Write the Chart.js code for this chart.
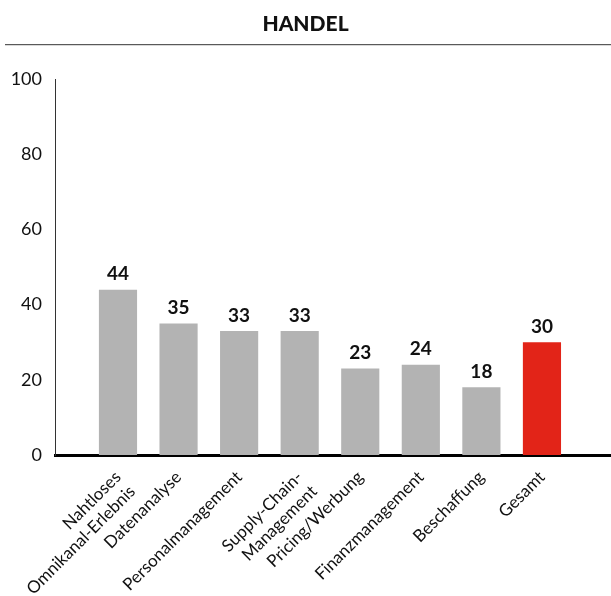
<!DOCTYPE html>
<html>
<head>
<meta charset="utf-8">
<script src="https://cdn.jsdelivr.net/npm/chart.js@4"></script>
<style>
  html, body { margin: 0; padding: 0; background: #fff; }
  #wrap { width: 611px; height: 596px; }
</style>
</head>
<body>
<div id="wrap"><canvas id="handelChart" width="611" height="596"></canvas></div>
<script>
'use strict';

const categories = [
  ['Nahtloses', 'Omnikanal-Erlebnis'],
  'Datenanalyse',
  'Personalmanagement',
  ['Supply-Chain-', 'Management'],
  'Pricing/Werbung',
  'Finanzmanagement',
  'Beschaffung',
  'Gesamt'
];
const values = [44, 35, 33, 33, 23, 24, 18, 30];
const yTicks = [0, 20, 40, 60, 80, 100];

const GREY = '#b3b3b3';
const RED = '#e22418';
const FONT = 'Lato, "Open Sans", sans-serif';

// value labels above the bars
const valueLabels = {
  id: 'valueLabels',
  afterDatasetsDraw(chart) {
    const ctx = chart.ctx;
    const meta = chart.getDatasetMeta(0);
    ctx.save();
    ctx.font = 'bold 19px ' + FONT;
    ctx.fillStyle = '#111';
    ctx.textAlign = 'center';
    ctx.textBaseline = 'bottom';
    meta.data.forEach((bar, i) => {
      ctx.fillText(String(values[i]), bar.x, bar.y - 6);
    });
    ctx.restore();
  }
};

// rule under the title
const titleRule = {
  id: 'titleRule',
  afterDraw(chart) {
    const ctx = chart.ctx;
    const y = chart.chartArea.top - 34.5;
    ctx.save();
    ctx.strokeStyle = '#333';
    ctx.lineWidth = 1;
    ctx.beginPath();
    ctx.moveTo(5, y);
    ctx.lineTo(chart.width, y);
    ctx.stroke();
    ctx.restore();
  }
};

function populateChart() {
  const ctx = document.getElementById('handelChart').getContext('2d');

  new Chart(ctx, {
    type: 'bar',
    data: {
      datasets: [{
        data: values.map((v, i) => ({ x: i, y: v })),
        backgroundColor: values.map((v, i) => i === values.length - 1 ? RED : GREY),
        categoryPercentage: 1,
        barPercentage: 0.63
      }]
    },
    options: {
      responsive: false,
      animation: false,
      layout: { padding: { left: 0, right: 0, top: 0, bottom: 0 } },
      plugins: {
        legend: { display: false },
        tooltip: { enabled: false },
        title: {
          display: true,
          text: 'HANDEL',
          color: '#111',
          font: { family: FONT, size: 21, weight: '900' },
          padding: { top: 12, bottom: 42 }
        }
      },
      scales: {
        x: {
          type: 'linear',
          offset: false,
          min: -1.04,
          max: 8.14,
          z: 1,
          grid: { display: false, drawTicks: false },
          border: { display: true, color: '#000', width: 3 },
          afterFit(scale) {
            scale.height = 596 - 455;
            scale.paddingLeft = 0;
            scale.paddingRight = 0;
          },
          afterBuildTicks(scale) {
            scale.ticks = categories.map((c, i) => ({ value: i }));
          },
          ticks: {
            autoSkip: false,
            minRotation: 45,
            maxRotation: 45,
            padding: 12,
            color: '#111',
            font: { family: FONT, size: 17 },
            callback: (v) => categories[v]
          }
        },
        y: {
          min: 0,
          max: 100,
          grid: { display: false, drawTicks: false },
          border: { display: true, color: '#333', width: 1 },
          afterFit(scale) { scale.width = 55; },
          afterBuildTicks(scale) {
            scale.ticks = yTicks.map(v => ({ value: v }));
          },
          ticks: {
            padding: 13,
            color: '#111',
            font: { family: FONT, size: 18 }
          }
        }
      }
    },
    plugins: [valueLabels, titleRule]
  });
}

populateChart();
</script>
</body>
</html>
